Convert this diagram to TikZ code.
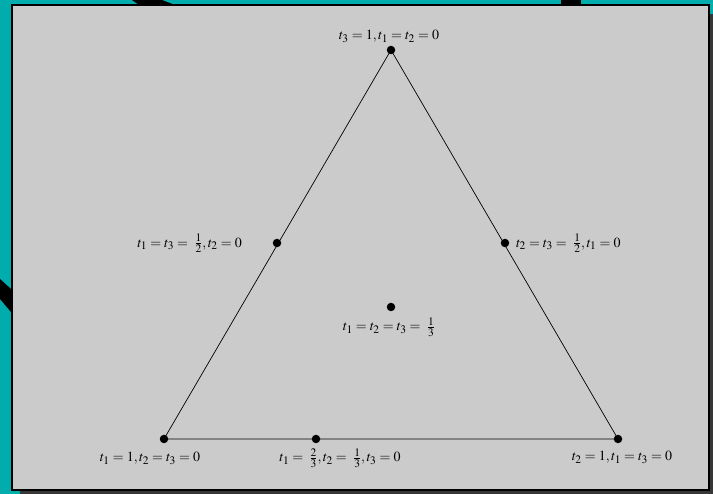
\documentclass[tikz,border=0pt]{standalone}
\usepackage{mathptmx}
\DeclareMathSizes{14}{14}{11.5}{9}
\definecolor{teal0}{RGB}{0,172,172}
\definecolor{panel}{RGB}{203,203,203}
\definecolor{shadowc}{RGB}{55,55,55}
\begin{document}
\begin{tikzpicture}[x=1pt,y=-1pt,
  dot/.style={circle,fill=black,inner sep=0pt,minimum size=8.5pt},
  lbl/.style={inner sep=0pt,font=\fontsize{14}{16}\selectfont},
  edge/.style={draw=black,line width=0.7pt}]
\useasboundingbox (0,0) rectangle (713,494);
\fill[teal0] (0,0) rectangle (713,494);
\fill[black] (132,0) -- (162,0) -- (175,5) -- (139,5) -- cycle;
\fill[black] (561,0) rectangle (581,5);
\fill[black] (0,279) -- (11,289) -- (11,312) -- (0,299) -- cycle;
\fill[shadowc] (20,14) rectangle (713,494);
\fill[panel,draw=black,line width=1.4pt] (12,5) rectangle (709,490);
% dots
\node[dot] (A) at (391,50) {};
\node[dot] (B) at (164,439) {};
\node[dot] (C) at (618,439) {};
\node[dot] (AB) at (277,243) {};
\node[dot] (AC) at (505,243) {};
\node[dot] (BC) at (316,439) {};
\node[dot] (G) at (391,307) {};
% edges
\draw[edge] (A.center) -- (B.center) -- (C.center) -- cycle;
% labels
\node[lbl] (lA) at (389,36) {$t_3=1,t_1=t_2=0$};
\node[lbl,anchor=east] (lAB) at (242,243) {$t_1=t_3=\;\frac{1}{2},t_2=0$};
\node[lbl,anchor=west] (lAC) at (516,243) {$t_2=t_3=\;\frac{1}{2},t_1=0$};
\node[lbl] (lG) at (389,327) {$t_1=t_2=t_3=\;\frac{1}{3}$};
\node[lbl] (lB) at (150,458) {$t_1=1,t_2=t_3=0$};
\node[lbl] (lBC) at (340,458) {$t_1=\;\frac{2}{3},t_2=\;\frac{1}{3},t_3=0$};
\node[lbl] (lC) at (622,457) {$t_2=1,t_1=t_3=0$};
\end{tikzpicture}
\end{document}
